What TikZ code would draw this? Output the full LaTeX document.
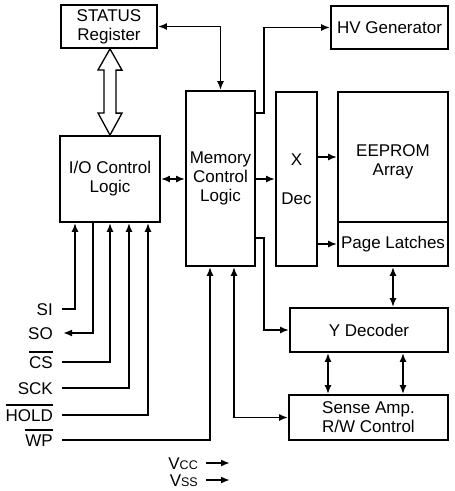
\documentclass[tikz,border=0pt]{standalone}
\usepackage{fontspec}
\setmainfont{Liberation Sans}
\usetikzlibrary{arrows.meta,calc}
\newcommand\olbar[1]{\setbox0\hbox{#1}\rlap{\rule[15.5pt]{\wd0}{1.6pt}}\box0}
\begin{document}
\begin{tikzpicture}[x=1pt,y=-1pt,
  every node/.style={font=\fontsize{17}{18.8}\selectfont},
  box/.style={draw, line width=1.8pt, inner sep=0pt, align=center},
  conn/.style={line width=1.8pt, -{Latex[length=9pt,width=7pt]}},
  dconn/.style={line width=1.8pt, {Latex[length=9pt,width=7pt]}-{Latex[length=9pt,width=7pt]}},
  pinlbl/.style={anchor=east, inner sep=0pt, text height=12.2pt, text depth=0pt},
  hollow/.style={draw, line width=1.3pt, fill=white, line join=miter}
]
\useasboundingbox (0,0) rectangle (455,491);

% boxes
\node[box, minimum width=96pt, minimum height=43pt] (status) at (109,26.5) {STATUS\\Register};
\node[box, minimum width=117pt, minimum height=43pt] (hv) at (389.5,27.5) {HV Generator};
\node[box, minimum width=69pt, minimum height=175pt] (memory) at (220.5,178.5) {Memory\\Control\\Logic};
\node[box, minimum width=41pt, minimum height=174pt] (xdec) at (296.5,179) {X\\[20.5pt]Dec};
\node[box, minimum width=110pt, minimum height=130pt] (eeprom) at (393,157) {};
\node[align=center] (eepromtxt) at (393,162) {EEPROM\\Array};
\node[box, minimum width=110pt, minimum height=44pt] (page) at (393,244) {Page Latches};
\node[box, minimum width=100pt, minimum height=86pt] (io) at (110,179) {I/O Control\\Logic};
\node[box, minimum width=158pt, minimum height=44pt] (ydec) at (369,330) {Y Decoder};
\node[box, minimum width=159pt, minimum height=45pt] (sense) at (368.5,417.5) {Sense Amp.\\R/W Control};

% pin labels
\node[pinlbl] (si) at (53,309) {SI};
\node[pinlbl] (so) at (53,333) {SO};
\node[pinlbl] (cs) at (53,362) {\olbar{CS}};
\node[pinlbl] (sck) at (53,388) {SCK};
\node[pinlbl] (hold) at (53,415) {\olbar{HOLD}};
\node[pinlbl] (wp) at (53,440) {\olbar{WP}};
\node[pinlbl] (vcc) at (198,463) {V{\fontsize{12.5}{12.5}\selectfont CC}};
\node[pinlbl] (vss) at (198,480) {V{\fontsize{12.5}{12.5}\selectfont SS}};

% hollow double arrow
\draw[hollow] (status.south -| io.north) -- ++(-12,21) -- ++(6,0) -- ++(0,43) -- ++(-6,0)
  -- (io.north) -- ++(12,-22) -- ++(-6,0) -- ++(0,-43) -- ++(6,0) -- cycle;

% connectors
\draw[dconn] (status.east) -| (memory.north);
\draw[dconn] (io.east) -- (io.east -| memory.west);
\draw[conn] (memory.east |- xdec.west) -- (xdec.west);
\draw[conn] ([yshift=-23pt]memory.north east) -- ++(8,0) |- (hv.west);
\draw[conn] (xdec.east |- eeprom.west) -- (eeprom.west);
\draw[conn] (xdec.east |- page.west) -- (page.west);
\draw[conn] ([yshift=-148pt]memory.north east) -- ++(8,0) |- (ydec.west);
\draw[dconn] (page.south) -- (page.south |- ydec.north);
\draw[dconn] ([xshift=-41pt]ydec.south) -- ([xshift=-41pt]ydec.south |- sense.north);
\draw[dconn] ([xshift=34pt]ydec.south) -- ([xshift=34pt]ydec.south |- sense.north);
\draw[dconn] ([xshift=13.5pt]memory.south) |- (sense.west);
\draw[conn] ([xshift=9pt]si.east) -| ([xshift=-35pt]io.south);
\draw[conn] ([xshift=-17pt]io.south) |- ([xshift=10pt]so.east);
\draw[conn] ([xshift=9pt]cs.east) -| (io.south);
\draw[conn] ([xshift=9pt]sck.east) -| ([xshift=19pt]io.south);
\draw[conn] ([xshift=9pt]hold.east) -| ([xshift=38pt]io.south);
\draw[conn] ([xshift=9pt]wp.east) -| ([xshift=-10.5pt]memory.south);
\draw[conn] ([xshift=8pt]vcc.east) -- ++(24,0);
\draw[conn] ([xshift=8pt]vss.east) -- ++(24,0);
\end{tikzpicture}
\end{document}
